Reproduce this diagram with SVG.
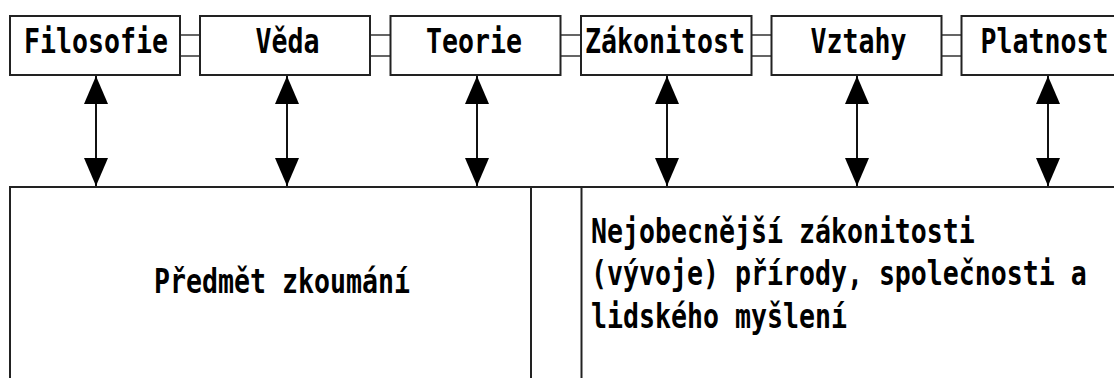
<svg xmlns="http://www.w3.org/2000/svg" width="1114" height="378" viewBox="0 0 1114 378">
<style>
.box{fill:#fff;stroke:#222;stroke-width:2}
.link{stroke:#333;stroke-width:1.5;fill:none}
.arr{stroke:#111;stroke-width:2;fill:none;marker-start:url(#ah);marker-end:url(#ah)}
.t{font-family:"DejaVu Sans Mono","Liberation Mono",monospace;font-weight:bold;font-size:34px;fill:#000}
.c{text-anchor:middle}
</style>
<defs>
<marker id="ah" viewBox="0 0 28 24" refX="28" refY="12" markerWidth="28" markerHeight="24" markerUnits="userSpaceOnUse" orient="auto-start-reverse">
<path d="M0,0 L28,12 L0,24 Z" fill="#000"/>
</marker>
</defs>
<g id="connectors">
<path class="link" d="M180,35 H200 M180,56 H200"/>
<path class="link" d="M370,35 H390 M370,56 H390"/>
<path class="link" d="M560,35 H581 M560,56 H581"/>
<path class="link" d="M751,35 H771 M751,56 H771"/>
<path class="link" d="M941,35 H961 M941,56 H961"/>
<line class="arr" x1="96" y1="76" x2="96" y2="186"/>
<line class="arr" x1="287" y1="76" x2="287" y2="186"/>
<line class="arr" x1="477" y1="76" x2="477" y2="186"/>
<line class="arr" x1="667" y1="76" x2="667" y2="186"/>
<line class="arr" x1="857" y1="76" x2="857" y2="186"/>
<line class="arr" x1="1048" y1="76" x2="1048" y2="186"/>
</g>
<g id="bottom">
<rect class="box" x="10" y="187" width="1200" height="300"/>
<line x1="531" y1="187" x2="531" y2="380" stroke="#222" stroke-width="2"/>
<line x1="581.5" y1="187" x2="581.5" y2="380" stroke="#222" stroke-width="2"/>
<text class="t c" transform="translate(282,293) scale(0.7817,1)">Předmět zkoumání</text>
<text class="t" transform="translate(591,243) scale(0.7817,1)">Nejobecnější zákonitosti</text>
<text class="t" transform="translate(591,285) scale(0.7817,1)">(vývoje) přírody, společnosti a</text>
<text class="t" transform="translate(591,328) scale(0.7817,1)">lidského myšlení</text>
</g>
<g id="filosofie"><rect class="box" x="10" y="16" width="170" height="59"/><text class="t c" transform="translate(96,53) scale(0.7817,1)">Filosofie</text></g>
<g id="veda"><rect class="box" x="200" y="16" width="170" height="59"/><text class="t c" transform="translate(287.5,53) scale(0.7817,1)">Věda</text></g>
<g id="teorie"><rect class="box" x="390.5" y="16" width="170" height="59"/><text class="t c" transform="translate(474,53) scale(0.7817,1)">Teorie</text></g>
<g id="zakonitost"><rect class="box" x="581" y="16" width="170.5" height="59"/><text class="t c" transform="translate(665,53) scale(0.7817,1)">Zákonitost</text></g>
<g id="vztahy"><rect class="box" x="771.5" y="16" width="170" height="59"/><text class="t c" transform="translate(858.5,53) scale(0.7817,1)">Vztahy</text></g>
<g id="platnost"><rect class="box" x="961.5" y="16" width="170" height="59"/><text class="t c" transform="translate(1044.5,53) scale(0.7817,1)">Platnost</text></g>
</svg>
